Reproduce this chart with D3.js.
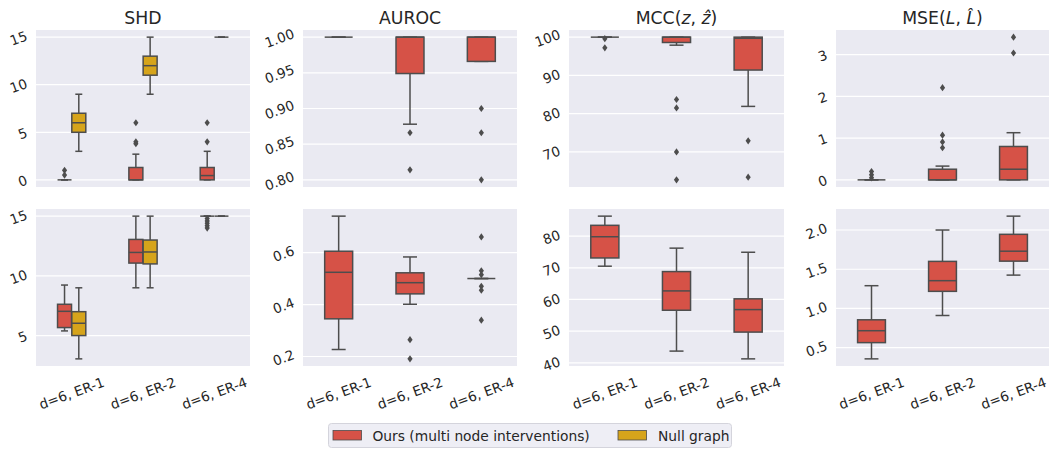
<!DOCTYPE html>
<html>
<head>
<meta charset="utf-8">
<script src="https://cdn.jsdelivr.net/npm/d3@7"></script>
<style>
  html, body { margin: 0; padding: 0; background: #ffffff; }
  svg { display: block; font-family: "DejaVu Sans", sans-serif; }
</style>
</head>
<body>
<svg id="chart" width="1050" height="449"></svg>
<script>
// ---------------- DATA ----------------
const categories = ["d=6, ER-1", "d=6, ER-2", "d=6, ER-4"];
const seriesNames = ["Ours (multi node interventions)", "Null graph"];
const seriesColors = ["#d65247", "#d6a41b"];

// five-number summaries per category: [whiskerLow, q1, median, q3, whiskerHigh]
// ---- top row
const shdTopOurs = [[0, 0, 0, 0, 0], [0, 0, 0, 1.3, 2.7], [0, 0, 0.45, 1.3, 3]];
const shdTopOursOut = [[1, 0.5], [3.8, 4, 6], [4, 6]];
const shdTopNull = [[3, 5, 6, 7, 9], [9, 11, 12, 13, 15], [15, 15, 15, 15, 15]];
const shdTopNullOut = [[], [], []];

const aurocTop = [[1, 1, 1, 1, 1], [0.878, 0.949, 1, 1, 1], [0.966, 0.966, 1, 1, 1]];
const aurocTopOut = [[], [0.866, 0.814], [0.90, 0.866, 0.80]];

const mccTop = [[100, 100, 100, 100, 100], [97.9, 98.6, 100, 100, 100], [81.9, 91.4, 99.7, 100, 100]];
const mccTopOut = [[99.6, 97.2], [83.7, 81.5, 70.0, 62.7], [72.9, 63.4]];

const mseTop = [[0, 0, 0, 0, 0], [0, 0, 0, 0.255, 0.33], [0, 0, 0.255, 0.80, 1.13]];
const mseTopOut = [[0.2, 0.12, 0.05], [2.21, 1.07, 0.91, 0.77], [3.42, 3.04]];

// ---- bottom row
const shdBotOurs = [[5.39, 5.67, 7.03, 7.62, 9.23], [9, 11.07, 11.96, 13.05, 15], [15, 15, 15, 15, 15]];
const shdBotOursOut = [[], [], [14.8, 14.6, 14.4, 14.2, 14.0]];
const shdBotNull = [[3.05, 5, 6.03, 7, 9], [9, 11, 12, 13, 15], [15, 15, 15, 15, 15]];
const shdBotNullOut = [[], [], []];

const aurocBot = [[0.227, 0.345, 0.524, 0.605, 0.740], [0.401, 0.441, 0.484, 0.522, 0.583], [0.5, 0.5, 0.5, 0.5, 0.5]];
const aurocBotOut = [[], [0.265, 0.191], [0.66, 0.53, 0.515, 0.47, 0.455, 0.34]];

const mccBot = [[70.5, 73.1, 79.8, 83.4, 86.3], [43.7, 56.6, 62.7, 68.8, 76.2], [41.25, 49.7, 56.8, 60.2, 74.9]];
const mccBotOut = [[], [], []];

const mseBot = [[0.357, 0.564, 0.716, 0.855, 1.29], [0.91, 1.218, 1.354, 1.60, 2.0], [1.425, 1.603, 1.73, 1.945, 2.177]];
const mseBotOut = [[], [], []];

// tick values
const shdTopTicks = [0, 5, 10, 15];
const aurocTopTicks = [0.80, 0.85, 0.90, 0.95, 1.00];
const mccTopTicks = [70, 80, 90, 100];
const mseTopTicks = [0, 1, 2, 3];
const shdBotTicks = [5, 10, 15];
const aurocBotTicks = [0.2, 0.4, 0.6];
const mccBotTicks = [40, 50, 60, 70, 80];
const mseBotTicks = [0.5, 1.0, 1.5, 2.0];

// ---------------- LAYOUT ----------------
const colX = [[36, 250], [303, 517], [569, 784], [836, 1049]];
const rowY = [[30, 187], [209, 366]];
const EDGE = "#4d4d4d";
const TICK_FS = 13.6;
const ANG = 20 * Math.PI / 180;

const panels = [
  { r: 0, c: 0, title: [["SHD", false]], series: [[shdTopOurs, shdTopOursOut, 0], [shdTopNull, shdTopNullOut, 1]], ticks: shdTopTicks, fmt: d3.format("d") },
  { r: 0, c: 1, title: [["AUROC", false]], series: [[aurocTop, aurocTopOut, 0]], ticks: aurocTopTicks, fmt: d3.format(".2f") },
  { r: 0, c: 2, title: [["MCC(", false], ["z", true], [", ", false], ["\u1E91", true], [")", false]], series: [[mccTop, mccTopOut, 0]], ticks: mccTopTicks, fmt: d3.format("d") },
  { r: 0, c: 3, title: [["MSE(", false], ["L", true], [", ", false], ["L\u0302", true], [")", false]], series: [[mseTop, mseTopOut, 0]], ticks: mseTopTicks, fmt: d3.format("d") },
  { r: 1, c: 0, title: null, series: [[shdBotOurs, shdBotOursOut, 0], [shdBotNull, shdBotNullOut, 1]], ticks: shdBotTicks, fmt: d3.format("d") },
  { r: 1, c: 1, title: null, series: [[aurocBot, aurocBotOut, 0]], ticks: aurocBotTicks, fmt: d3.format(".1f") },
  { r: 1, c: 2, title: null, series: [[mccBot, mccBotOut, 0]], ticks: mccBotTicks, fmt: d3.format("d") },
  { r: 1, c: 3, title: null, series: [[mseBot, mseBotOut, 0]], ticks: mseBotTicks, fmt: d3.format(".1f") },
];

const svg = d3.select("#chart");

function rotatedY(g, text, axisLeft, y) {
  const t = g.append("text").text(text)
    .attr("font-size", TICK_FS).attr("fill", "#262626")
    .attr("text-anchor", "middle").attr("dominant-baseline", "central");
  const L = t.node().getComputedTextLength();
  const h = TICK_FS * 1.0;
  const W = L * Math.cos(ANG) + h * Math.sin(ANG);
  const cx = axisLeft - 7 - W / 2, cy = y + 1;
  t.attr("x", cx).attr("y", cy).attr("transform", `rotate(-20,${cx},${cy})`);
}

function rotatedX(g, text, x, axisBottom) {
  const t = g.append("text").text(text)
    .attr("font-size", TICK_FS).attr("fill", "#262626")
    .attr("text-anchor", "middle").attr("dominant-baseline", "central");
  const L = t.node().getComputedTextLength();
  const h = TICK_FS * 1.0;
  const H = L * Math.sin(ANG) + h * Math.cos(ANG);
  const cx = x, cy = axisBottom + 9 + H / 2;
  t.attr("x", cx).attr("y", cy).attr("transform", `rotate(-20,${cx},${cy})`);
}

panels.forEach(p => {
  const [x0, x1] = colX[p.c];
  const [y0, y1] = rowY[p.r];
  const g = svg.append("g");

  // domain from data with 5% margin
  const all = [];
  p.series.forEach(([stats, outs]) => { stats.forEach(s => all.push(...s)); outs.forEach(o => all.push(...o)); });
  const mn = d3.min(all), mx = d3.max(all), pad = (mx - mn) * 0.05;
  const y = d3.scaleLinear().domain([mn - pad, mx + pad]).range([y1, y0]);
  const x = d3.scaleBand().domain(categories).range([x0, x1]).padding(0);
  const bw = x.bandwidth();

  g.append("rect").attr("x", x0).attr("y", y0).attr("width", x1 - x0).attr("height", y1 - y0).attr("fill", "#eaeaf2");

  // grid + y ticks
  p.ticks.forEach(t => {
    const yy = y(t);
    g.append("line").attr("x1", x0).attr("x2", x1).attr("y1", yy).attr("y2", yy)
      .attr("stroke", "#ffffff").attr("stroke-width", 1.2);
    rotatedY(g, p.fmt(t), x0, yy);
  });

  const nHue = p.series.length;
  const hueW = nHue === 2 ? 0.2 : 0.4;
  p.series.forEach(([stats, outs, si], k) => {
    const off = nHue === 2 ? (k === 0 ? -0.1 : 0.1) : 0;
    categories.forEach((cat, i) => {
      const s = stats[i];
      const cx = x(cat) + bw / 2 + off * bw;
      const w = hueW * bw * 0.98;
      const cw = w / 2;
      // whiskers
      g.append("line").attr("x1", cx).attr("x2", cx).attr("y1", y(s[0])).attr("y2", y(s[1]))
        .attr("stroke", EDGE).attr("stroke-width", 1.5);
      g.append("line").attr("x1", cx).attr("x2", cx).attr("y1", y(s[3])).attr("y2", y(s[4]))
        .attr("stroke", EDGE).attr("stroke-width", 1.5);
      // caps
      [s[0], s[4]].forEach(v => {
        g.append("line").attr("x1", cx - cw / 2).attr("x2", cx + cw / 2).attr("y1", y(v)).attr("y2", y(v))
          .attr("stroke", EDGE).attr("stroke-width", 1.5);
      });
      // box
      g.append("rect").attr("x", cx - w / 2).attr("width", w)
        .attr("y", y(s[3])).attr("height", Math.max(0, y(s[1]) - y(s[3])))
        .attr("fill", seriesColors[si]).attr("stroke", EDGE).attr("stroke-width", 1.5);
      // median
      g.append("line").attr("x1", cx - w / 2).attr("x2", cx + w / 2).attr("y1", y(s[2])).attr("y2", y(s[2]))
        .attr("stroke", EDGE).attr("stroke-width", 1.5);
      // outliers
      outs[i].forEach(v => {
        g.append("path").attr("d", "M0,-3.6L2.6,0L0,3.6L-2.6,0Z")
          .attr("transform", `translate(${cx},${y(v)})`)
          .attr("fill", EDGE);
      });
    });
  });

  // x tick labels on bottom row
  if (p.r === 1) {
    categories.forEach(cat => rotatedX(g, cat, x(cat) + bw / 2, y1));
  }

  // titles
  if (p.title) {
    const t = g.append("text").attr("x", (x0 + x1) / 2).attr("y", 24)
      .attr("text-anchor", "middle").attr("font-size", 17.3).attr("fill", "#262626");
    p.title.forEach(([s, it]) => {
      const ts = t.append("tspan").text(s);
      if (it) ts.attr("font-style", "italic");
    });
  }
});

// legend
const lg = svg.append("g");
lg.append("rect").attr("x", 328.5).attr("y", 423.5).attr("width", 403).attr("height", 24).attr("rx", 3)
  .attr("fill", "#eeeef5").attr("stroke", "#d4d4dc").attr("stroke-width", 1);
const legendPos = [[333, 372.5], [618, 658]];
seriesNames.forEach((n, i) => {
  lg.append("rect").attr("x", legendPos[i][0]).attr("y", 430.5).attr("width", 28.5).attr("height", 9.5)
    .attr("fill", seriesColors[i]).attr("stroke", EDGE).attr("stroke-width", 0.8);
  lg.append("text").attr("x", legendPos[i][1]).attr("y", 435.5).attr("dominant-baseline", "central")
    .attr("font-size", 13.8).attr("fill", "#262626").text(n);
});
</script>
</body>
</html>
